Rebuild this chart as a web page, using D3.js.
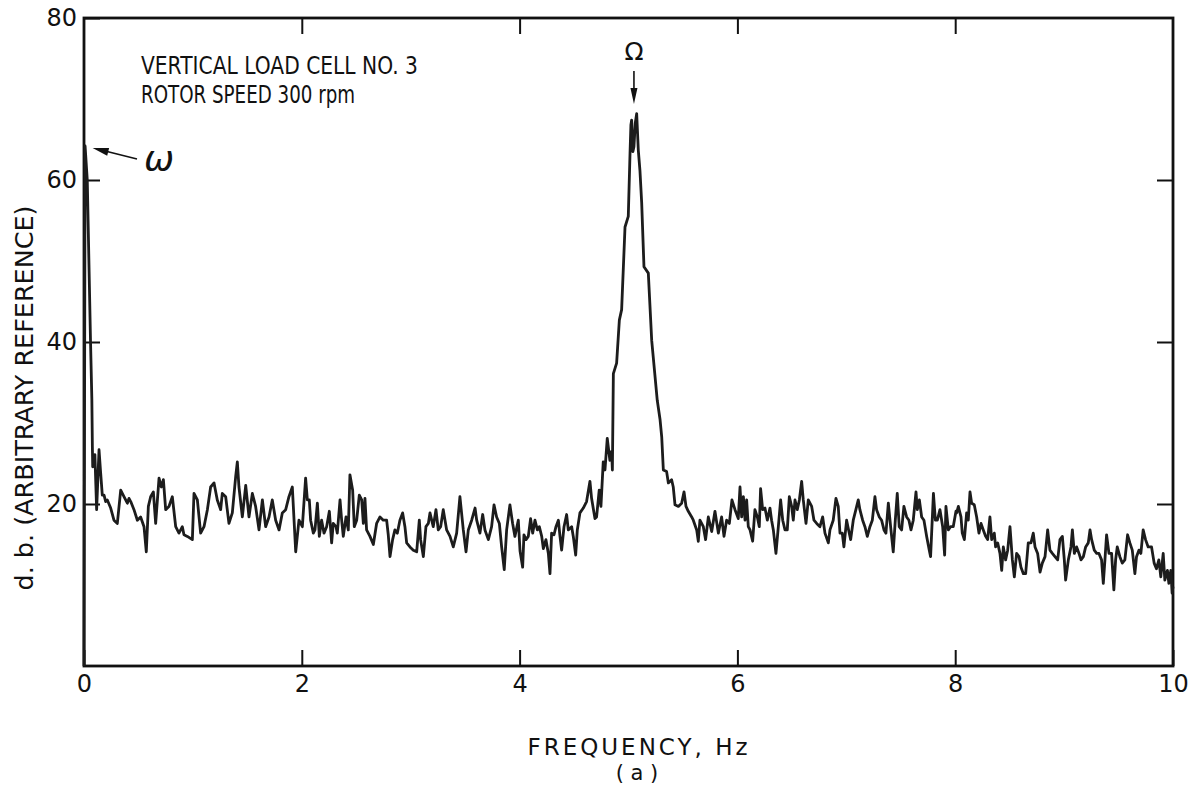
<!DOCTYPE html>
<html>
<head>
<meta charset="utf-8">
<script src="https://cdn.jsdelivr.net/npm/d3@7"></script>
<style>
  html, body { margin: 0; padding: 0; background: #fff; }
  svg { display: block; }
  text { font-family: "DejaVu Sans", "Liberation Sans", sans-serif; fill: #111; }
</style>
</head>
<body>
<svg id="chart" width="1188" height="786"></svg>
<script>
// Spectrum of the vertical load cell signal (frequency in Hz, level in dB)
const freqLow = [0.0, 0.01, 0.03, 0.045, 0.06, 0.072, 0.077, 0.08, 0.086, 0.10, 0.116, 0.138, 0.153, 0.168, 0.184, 0.199, 0.214, 0.245, 0.275, 0.306, 0.337, 0.367, 0.398, 0.413, 0.429, 0.459, 0.49, 0.52, 0.551, 0.572, 0.591, 0.612, 0.637, 0.658, 0.689, 0.71, 0.729, 0.75, 0.78, 0.811, 0.842, 0.872, 0.903, 0.918, 0.949, 0.995, 1.01, 1.041, 1.071, 1.102, 1.133, 1.163, 1.194, 1.224, 1.255, 1.27, 1.301, 1.331, 1.362, 1.393, 1.408, 1.423, 1.454, 1.485, 1.515, 1.546, 1.576, 1.607, 1.638, 1.668, 1.699, 1.729, 1.76, 1.791, 1.821, 1.852, 1.882, 1.913, 1.944, 1.974, 2.005];
const dbLow = [0, 64.2, 60, 50, 40, 33, 27, 24.6, 25.2, 26.1, 19.3, 26.7, 23.8, 21.1, 21.1, 20.3, 20.5, 19.5, 18.0, 17.6, 21.7, 20.9, 20.1, 20.7, 20.3, 19.3, 18.0, 18.4, 17.2, 14.1, 19.7, 20.9, 21.5, 17.6, 23.2, 22.1, 23.0, 19.3, 19.7, 20.9, 17.2, 16.4, 17.2, 16.2, 16.0, 15.6, 21.3, 20.5, 16.4, 17.2, 19.3, 22.1, 22.6, 20.5, 19.3, 21.3, 20.9, 17.6, 18.9, 23.4, 25.2, 22.1, 18.4, 22.3, 18.4, 21.3, 19.7, 16.8, 20.5, 17.2, 18.4, 20.5, 18.0, 16.8, 18.9, 19.3, 20.9, 22.1, 14.1, 18.0, 17.2];

const freqMid = [2.035, 2.051, 2.069, 2.081, 2.106, 2.121, 2.143, 2.161, 2.182, 2.204, 2.228, 2.253, 2.274, 2.289, 2.314, 2.326, 2.351, 2.366, 2.381, 2.406, 2.427, 2.442, 2.467, 2.482, 2.504, 2.528, 2.55, 2.565, 2.58, 2.595, 2.626, 2.657, 2.687, 2.718, 2.748, 2.779, 2.794, 2.81, 2.834, 2.855, 2.877, 2.901, 2.926, 2.947, 2.963, 2.993, 3.024, 3.055, 3.079, 3.091, 3.116, 3.14, 3.162, 3.177, 3.207, 3.232, 3.253, 3.275, 3.299, 3.33, 3.361, 3.391, 3.422, 3.452, 3.483, 3.508, 3.529, 3.56, 3.591, 3.606, 3.636, 3.661, 3.682, 3.713, 3.743, 3.765, 3.789, 3.814, 3.835, 3.859, 3.881, 3.911, 3.936, 3.957, 3.988];
const dbMid = [23.2, 20.5, 20.5, 18.0, 16.4, 16.8, 20.1, 16.0, 18.0, 16.4, 17.2, 19.1, 15.2, 17.6, 17.2, 16.4, 20.5, 18.0, 16.0, 18.4, 16.8, 23.6, 21.7, 17.2, 18.0, 21.1, 20.5, 17.6, 20.7, 16.8, 16.0, 15.0, 17.6, 18.4, 18.0, 18.0, 16.2, 13.5, 15.6, 16.8, 16.4, 18.0, 18.9, 17.2, 15.2, 14.7, 14.3, 14.1, 18.0, 15.6, 13.5, 17.2, 17.6, 18.9, 17.2, 19.3, 16.8, 17.2, 19.3, 16.8, 16.0, 14.7, 16.4, 20.9, 16.8, 14.1, 16.8, 18.0, 19.5, 18.0, 16.4, 18.7, 16.8, 15.6, 17.2, 19.9, 18.4, 17.6, 14.7, 11.9, 16.8, 19.9, 17.6, 16.0, 18.0];

const freqPeak = [4.004, 4.028, 4.04, 4.059, 4.08, 4.101, 4.12, 4.141, 4.163, 4.181, 4.203, 4.218, 4.242, 4.264, 4.279, 4.294, 4.316, 4.334, 4.356, 4.371, 4.386, 4.408, 4.432, 4.447, 4.478, 4.493, 4.515, 4.53, 4.554, 4.585, 4.615, 4.646, 4.661, 4.692, 4.707, 4.731, 4.747, 4.768, 4.784, 4.805, 4.829, 4.845, 4.852, 4.861, 4.891, 4.916, 4.937, 4.968, 4.998, 5.014, 5.022, 5.029, 5.04, 5.05, 5.062, 5.075, 5.09, 5.105, 5.121, 5.142, 5.182, 5.213, 5.264, 5.29, 5.305, 5.32, 5.35, 5.366, 5.396, 5.411, 5.427, 5.458, 5.488, 5.51, 5.528, 5.549, 5.58, 5.595, 5.626, 5.641, 5.656, 5.687, 5.708, 5.733, 5.764, 5.794, 5.825, 5.855, 5.877, 5.901, 5.926, 5.95, 5.978, 6.008];
const dbPeak = [14.2, 12.2, 16.2, 15.6, 16.0, 18.2, 16.4, 18.0, 16.8, 17.2, 16.0, 14.5, 15.6, 13.9, 11.4, 16.4, 16.2, 17.2, 18.0, 16.0, 14.3, 17.2, 18.7, 16.8, 17.2, 16.0, 13.7, 16.8, 18.9, 19.5, 20.3, 22.8, 20.7, 18.2, 18.4, 21.7, 19.7, 25.2, 24.2, 28.1, 25.4, 26.5, 24.2, 36.1, 37.4, 42.7, 44.0, 54.2, 55.5, 63.3, 66.8, 67.4, 63.5, 64.1, 67.0, 68.2, 63.7, 61.2, 57.2, 49.3, 48.5, 40.2, 32.8, 30.4, 28.3, 24.2, 24.0, 22.6, 23.0, 22.1, 19.9, 19.7, 20.1, 21.5, 19.7, 19.1, 18.4, 18.0, 16.8, 15.4, 18.0, 17.2, 15.6, 18.4, 16.6, 19.1, 16.4, 18.4, 16.0, 18.0, 17.6, 20.5, 19.3, 18.2];

const freqUpper = [6.024, 6.039, 6.055, 6.07, 6.085, 6.1, 6.116, 6.14, 6.161, 6.183, 6.201, 6.213, 6.232, 6.253, 6.275, 6.299, 6.314, 6.33, 6.354, 6.376, 6.397, 6.416, 6.437, 6.458, 6.477, 6.498, 6.513, 6.529, 6.55, 6.569, 6.59, 6.605, 6.63, 6.651, 6.682, 6.703, 6.728, 6.758, 6.783, 6.804, 6.835, 6.85, 6.88, 6.905, 6.926, 6.942, 6.963, 6.978, 7.003, 7.021, 7.04, 7.064, 7.088, 7.11, 7.125, 7.15, 7.171, 7.193, 7.217, 7.239, 7.263, 7.278, 7.303, 7.324, 7.346, 7.364, 7.386, 7.407, 7.431, 7.45, 7.468, 7.486, 7.508, 7.529, 7.554, 7.575, 7.594, 7.615, 7.64, 7.652, 7.671, 7.692, 7.713, 7.738, 7.762, 7.774, 7.8, 7.818, 7.836, 7.86, 7.885, 7.903, 7.915, 7.937, 7.958, 7.982, 8.007];
const dbUpper = [22.1, 18.4, 20.9, 18.0, 20.5, 17.2, 16.8, 15.4, 19.3, 18.4, 17.2, 21.9, 19.3, 19.5, 18.0, 19.5, 18.0, 16.8, 13.9, 17.2, 20.5, 18.0, 16.8, 16.8, 20.9, 19.7, 18.0, 20.5, 19.3, 20.5, 22.8, 20.5, 17.6, 20.5, 19.7, 18.0, 17.6, 17.2, 18.4, 16.4, 15.2, 16.8, 18.0, 20.7, 19.7, 16.4, 16.4, 14.7, 18.0, 16.8, 15.6, 18.0, 19.3, 20.5, 19.3, 18.0, 17.2, 16.0, 17.2, 18.0, 20.9, 19.3, 18.4, 18.0, 16.8, 16.4, 20.1, 17.2, 14.1, 18.0, 21.3, 17.2, 16.8, 19.7, 18.4, 18.0, 16.8, 18.0, 21.5, 19.3, 20.5, 18.4, 18.0, 16.0, 14.3, 13.5, 21.3, 18.0, 18.0, 19.3, 17.2, 13.7, 19.7, 16.8, 17.2, 17.2, 19.1];

const freqHigh = [8.013, 8.029, 8.053, 8.065, 8.084, 8.105, 8.12, 8.136, 8.151, 8.175, 8.197, 8.218, 8.237, 8.258, 8.28, 8.298, 8.319, 8.335, 8.359, 8.371, 8.39, 8.411, 8.427, 8.442, 8.463, 8.482, 8.503, 8.525, 8.543, 8.564, 8.586, 8.604, 8.626, 8.647, 8.671, 8.696, 8.717, 8.733, 8.757, 8.779, 8.8, 8.825, 8.849, 8.87, 8.892, 8.916, 8.941, 8.962, 8.984, 9.002, 9.014, 9.039, 9.063, 9.076, 9.094, 9.115, 9.137, 9.155, 9.177, 9.198, 9.222, 9.238, 9.253, 9.277, 9.299, 9.32, 9.344, 9.36, 9.375, 9.39, 9.412, 9.436, 9.457, 9.473, 9.488, 9.512, 9.534, 9.558, 9.583, 9.604, 9.626, 9.65, 9.665, 9.687, 9.705, 9.726, 9.748, 9.772, 9.803, 9.827, 9.848, 9.87, 9.888, 9.91, 9.925, 9.949, 9.962, 9.98, 9.992, 10.0];
const dbHigh = [18.9, 19.7, 18.4, 16.4, 15.6, 18.9, 18.0, 21.5, 20.1, 19.9, 18.4, 16.4, 17.6, 16.8, 16.0, 15.6, 18.4, 15.6, 16.4, 14.7, 15.2, 13.9, 11.8, 14.7, 13.1, 14.3, 17.2, 13.1, 11.0, 13.9, 13.5, 12.2, 11.4, 11.4, 15.2, 15.2, 16.4, 14.7, 13.9, 11.6, 12.7, 13.5, 16.8, 14.3, 13.9, 13.5, 13.1, 15.6, 16.0, 13.1, 10.6, 13.1, 14.7, 16.8, 13.9, 14.7, 13.9, 13.1, 13.5, 14.7, 15.2, 16.8, 15.6, 14.3, 13.9, 13.9, 13.1, 10.2, 13.1, 16.2, 13.9, 13.9, 9.4, 13.1, 14.7, 13.5, 12.7, 13.1, 16.2, 15.2, 14.3, 11.4, 13.5, 14.3, 13.9, 16.8, 15.6, 14.7, 14.7, 12.7, 12.0, 13.1, 11.0, 13.9, 10.6, 11.8, 10.2, 11.8, 9.0, 9.8];

// Axis ticks and labels
const xTicks = [0, 2, 4, 6, 8, 10];
const yTicks = [20, 40, 60, 80];
const titleLines = ["VERTICAL LOAD CELL NO. 3", "ROTOR SPEED 300 rpm"];

const svg = d3.select("#chart");
const plotL = 84, plotR = 1173, plotT = 18, plotB = 666;

const x = d3.scaleLinear().domain([0, 10]).range([plotL, plotR]);
const y = d3.scaleLinear().domain([0, 80]).range([plotB, plotT]);

const series = [];
[[freqLow, dbLow], [freqMid, dbMid], [freqPeak, dbPeak], [freqUpper, dbUpper], [freqHigh, dbHigh]]
  .forEach(([fs, ds]) => fs.forEach((f, i) => series.push({ f, d: ds[i] })));

// Frame
svg.append("rect")
  .attr("x", plotL).attr("y", plotT)
  .attr("width", plotR - plotL).attr("height", plotB - plotT)
  .attr("fill", "none").attr("stroke", "#111").attr("stroke-width", 2.8);

const tickLen = 16;
function styleAxis(g) {
  g.select(".domain").remove();
  g.selectAll(".tick line").attr("stroke", "#111").attr("stroke-width", 2);
  g.selectAll(".tick text")
    .style("font-family", "'DejaVu Sans', sans-serif")
    .style("font-size", "24px").attr("fill", "#111");
}

svg.append("g").attr("transform", `translate(0,${plotB})`)
  .call(d3.axisBottom(x).tickValues(xTicks).tickSize(-tickLen).tickPadding(9).tickFormat(d3.format("d")))
  .call(styleAxis);
svg.append("g").attr("transform", `translate(0,${plotT})`)
  .call(d3.axisTop(x).tickValues(xTicks.slice(1, -1)).tickSize(-tickLen).tickFormat(""))
  .call(styleAxis);
svg.append("g").attr("transform", `translate(${plotL},0)`)
  .call(d3.axisLeft(y).tickValues(yTicks).tickSize(-tickLen).tickPadding(7).tickFormat(d3.format("d")))
  .call(styleAxis);
svg.append("g").attr("transform", `translate(${plotR},0)`)
  .call(d3.axisRight(y).tickValues(yTicks.slice(0, -1)).tickSize(-tickLen).tickFormat(""))
  .call(styleAxis);

// Spectrum trace
const line = d3.line().x(p => x(p.f)).y(p => y(p.d));
svg.append("path")
  .datum(series)
  .attr("d", line)
  .attr("fill", "none")
  .attr("stroke", "#1c1c1c")
  .attr("stroke-width", 2.8)
  .attr("stroke-linejoin", "round");

// Title block
svg.append("text").attr("x", 141).attr("y", 74)
  .attr("textLength", 277).attr("lengthAdjust", "spacingAndGlyphs")
  .style("font-size", "24px").text(titleLines[0]);
svg.append("text").attr("x", 141).attr("y", 103)
  .attr("textLength", 214).attr("lengthAdjust", "spacingAndGlyphs")
  .style("font-size", "24px").text(titleLines[1]);

// Axis titles
svg.append("text")
  .attr("transform", "translate(33,398) rotate(-90)")
  .attr("text-anchor", "middle")
  .attr("textLength", 385).attr("lengthAdjust", "spacingAndGlyphs")
  .style("font-size", "24px")
  .text("d. b. (ARBITRARY REFERENCE)");
svg.append("text")
  .attr("x", 639).attr("y", 755)
  .attr("text-anchor", "middle")
  .style("font-size", "23px")
  .style("letter-spacing", "3px")
  .text("FREQUENCY,  Hz");
svg.append("text")
  .attr("x", 637).attr("y", 780)
  .attr("text-anchor", "middle")
  .style("font-size", "21px")
  .text("( a )");

// Peak markers
const markerPeak = { f: 5.05, d: 68.2 };
const markerLow = { f: 0.07, d: 64.2 };

svg.append("text")
  .attr("x", x(markerPeak.f)).attr("y", 60)
  .attr("text-anchor", "middle")
  .style("font-size", "25px").text("Ω");
svg.append("line")
  .attr("x1", x(markerPeak.f)).attr("x2", x(markerPeak.f))
  .attr("y1", 71).attr("y2", 92)
  .attr("stroke", "#111").attr("stroke-width", 1.6);
svg.append("path")
  .attr("d", `M${x(markerPeak.f) - 3.5},88 L${x(markerPeak.f) + 3.5},88 L${x(markerPeak.f)},104 Z`)
  .attr("fill", "#111");

svg.append("text")
  .attr("x", 144).attr("y", 171)
  .style("font-size", "36px").style("font-style", "italic").text("ω");
const ax0 = 137, ay0 = 159, ax1 = x(markerLow.f) + 1, ay1 = 148;
const ang = Math.atan2(ay1 - ay0, ax1 - ax0);
const headLen = 16, headW = 4;
svg.append("line")
  .attr("x1", ax0).attr("y1", ay0)
  .attr("x2", ax1 - headLen * 0.8 * Math.cos(ang)).attr("y2", ay1 - headLen * 0.8 * Math.sin(ang))
  .attr("stroke", "#111").attr("stroke-width", 1.6);
svg.append("path")
  .attr("d", (() => {
    const bx = ax1 - headLen * Math.cos(ang), by = ay1 - headLen * Math.sin(ang);
    const px = -Math.sin(ang) * headW, py = Math.cos(ang) * headW;
    return `M${ax1},${ay1} L${bx + px},${by + py} L${bx - px},${by - py} Z`;
  })())
  .attr("fill", "#111");
</script>
</body>
</html>
